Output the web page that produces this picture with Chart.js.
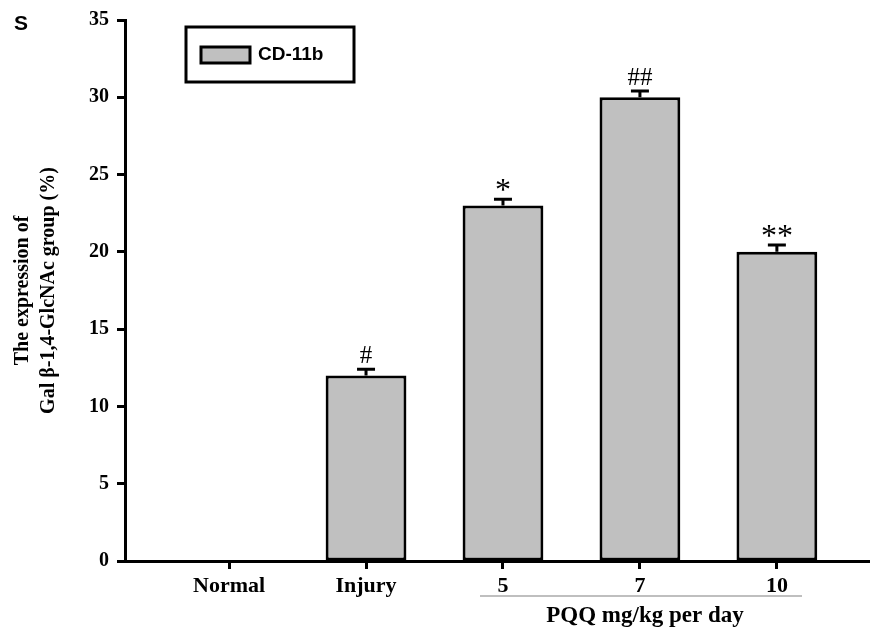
<!DOCTYPE html>
<html>
<head>
<meta charset="utf-8">
<script src="https://cdn.jsdelivr.net/npm/chart.js@4/dist/chart.umd.min.js"></script>
<style>
  body { margin: 0; background: #fff; }
  #wrap { width: 870px; height: 633px; }
</style>
</head>
<body>
<div id="wrap"><canvas id="myChart" width="870" height="633"></canvas></div>
<script>
var categories = ['Normal', 'Injury', '5', '7', '10'];
var values = [0, 12, 23, 30, 20];
var errors = [0, 0.4, 0.4, 0.4, 0.45];
var marks = ['', '#', '*', '##', '**'];
var yTicks = [0, 5, 10, 15, 20, 25, 30, 35];
var seriesLabel = 'CD-11b';
var xTitle = 'PQQ mg/kg per day';
var yTitle = ['The expression of', 'Gal \u03b2-1,4-GlcNAc group (%)'];

var serif = '"Liberation Serif", "Times New Roman", serif';
var sans = '"Liberation Sans", Arial, sans-serif';

var points = [];
for (var i = 0; i < values.length; i++) {
  points.push({ x: i + 1, y: values[i] });
}

// error caps, significance marks, legend box and the PQQ label
var extras = {
  id: 'extras',
  afterDatasetsDraw: function (chart) {
    var c = chart.ctx;
    var xs = chart.scales.x, ys = chart.scales.y;
    c.save();
    c.strokeStyle = '#000';
    c.fillStyle = '#000';
    c.lineWidth = 3;
    for (var i = 0; i < values.length; i++) {
      if (!values[i]) continue;
      var px = xs.getPixelForValue(i + 1);
      var top = ys.getPixelForValue(values[i] + errors[i]);
      var base = ys.getPixelForValue(values[i]);
      c.beginPath();
      c.moveTo(px, base);
      c.lineTo(px, top);
      c.moveTo(px - 9, top);
      c.lineTo(px + 9, top);
      c.stroke();
      var star = marks[i].charAt(0) == '*';
      c.font = star ? '32px ' + serif : '25px ' + serif;
      c.textAlign = 'center';
      c.textBaseline = 'alphabetic';
      c.fillText(marks[i], px, top - (star ? -1 : 6));
    }

    // legend
    c.lineWidth = 3;
    c.strokeRect(186, 27, 168, 55);
    c.fillStyle = '#c0c0c0';
    c.fillRect(201, 47, 49, 16);
    c.strokeRect(201, 47, 49, 16);
    c.fillStyle = '#000';
    c.font = 'bold 19px ' + sans;
    c.textAlign = 'left';
    c.textBaseline = 'middle';
    c.fillText(seriesLabel, 258, 55);

    // panel letter
    c.font = 'bold 21px ' + sans;
    c.fillText('S', 14, 24);

    // dose group line and title
    c.strokeStyle = '#aaa';
    c.lineWidth = 1.5;
    c.beginPath();
    c.moveTo(480, 596);
    c.lineTo(802, 596);
    c.stroke();
    c.fillStyle = '#000';
    c.font = 'bold 23px ' + serif;
    c.textAlign = 'center';
    c.textBaseline = 'alphabetic';
    c.fillText(xTitle, 645, 622);
    c.restore();
  }
};

var ctx = document.getElementById('myChart').getContext('2d');
var chart = new Chart(ctx, {
  type: 'bar',
  data: {
    datasets: [{
      label: seriesLabel,
      data: points,
      backgroundColor: '#c0c0c0',
      borderColor: '#000',
      borderWidth: 3,
      borderSkipped: false,
      categoryPercentage: 1,
      barPercentage: 0.59
    }]
  },
  options: {
    responsive: false,
    animation: false,
    layout: { padding: { left: 0, right: 0, top: 20, bottom: 0 } },
    plugins: {
      legend: { display: false },
      tooltip: { enabled: false }
    },
    scales: {
      x: {
        type: 'linear',
        offset: false,
        min: 0.24,
        max: 5.68,
        afterFit: function (s) { s.height = 72; },
        afterBuildTicks: function (s) {
          s.ticks = categories.map(function (c, i) { return { value: i + 1 }; });
        },
        border: { color: '#000', width: 3 },
        grid: { offset: false, drawOnChartArea: false, tickLength: 8, tickColor: '#000', tickWidth: 3 },
        ticks: {
          color: '#000',
          padding: 4,
          autoSkip: false,
          maxRotation: 0,
          font: { family: serif, size: 22, weight: 'bold' },
          callback: function (v) { return categories[v - 1]; }
        }
      },
      y: {
        min: 0,
        max: 35,
        afterFit: function (s) { s.width = 125; },
        afterBuildTicks: function (s) {
          s.ticks = yTicks.map(function (v) { return { value: v }; });
        },
        border: { color: '#000', width: 3 },
        grid: { drawOnChartArea: false, tickLength: 8, tickColor: '#000', tickWidth: 3 },
        ticks: {
          color: '#000',
          padding: 8,
          font: { family: serif, size: 20, weight: 'bold' }
        },
        title: {
          display: true,
          text: yTitle,
          color: '#000',
          padding: { top: 10, bottom: 0 },
          font: { family: serif, size: 20, weight: 'bold', lineHeight: 1.3 }
        }
      }
    }
  },
  plugins: [extras]
});
</script>
</body>
</html>
